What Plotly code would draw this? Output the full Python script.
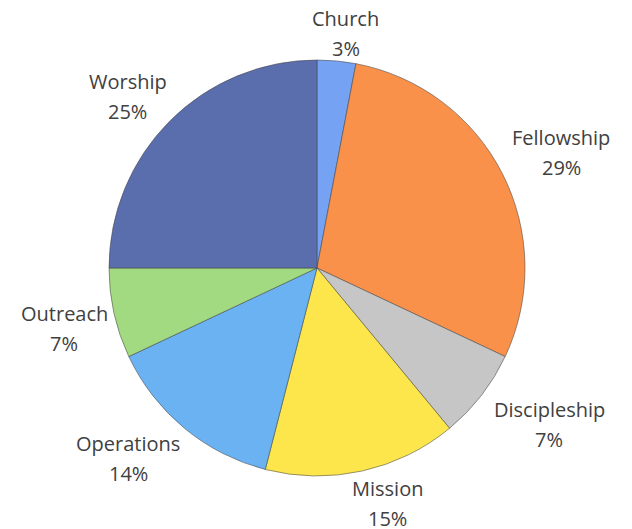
import math
import plotly.graph_objects as go

categories = ["Church", "Fellowship", "Discipleship", "Mission", "Operations", "Outreach", "Worship"]
values = [3, 29, 7, 15, 14, 7, 25]
colors = ["#76a2f3", "#fa914a", "#c6c6c6", "#fde64c", "#6ab2f2", "#a1da80", "#5a6dad"]

W, H = 632, 529
OFF = 8  # page body margin
CX, CY, R = 317 - OFF, 268 - OFF, 208

fig = go.Figure(go.Pie(
    labels=categories, values=values, sort=False, direction="clockwise", rotation=0,
    marker=dict(colors=colors, line=dict(color="rgba(70,70,70,0.55)", width=1)),
    textinfo="none", hoverinfo="label+percent", showlegend=False,
    domain=dict(x=[(CX - R) / W, (CX + R) / W], y=[(H - CY - R) / H, (H - CY + R) / H]),
))


def soft_sign(x, k):
    return max(-1.0, min(1.0, x * k))


total = sum(values)
cum = 0
font = dict(family="Open Sans", size=20, color="#404040")
for name, v in zip(categories, values):
    mid = (cum + v / 2) / total
    cum += v
    th = 2 * math.pi * mid
    ux, uy = math.sin(th), math.cos(th)
    hw = len(name) * 5.0
    hh = 20
    gap = 10
    px = CX + (R + gap) * ux + hw * soft_sign(ux, 3.0)
    py = CY - (R + gap) * uy - hh * soft_sign(uy, 2.2) + 3
    pct = f"{round(100 * v / total)}%"
    fig.add_annotation(x=px / W, y=1 - py / H, xref="paper", yref="paper", text=name,
                       showarrow=False, font=font, yshift=15, xanchor="center", yanchor="middle")
    fig.add_annotation(x=px / W, y=1 - py / H, xref="paper", yref="paper", text=pct,
                       showarrow=False, font=font, yshift=-15, xanchor="center", yanchor="middle")

fig.update_layout(width=W, height=H, margin=dict(l=0, r=0, t=0, b=0),
                  paper_bgcolor="white", plot_bgcolor="white")
fig.write_html("out.html")
